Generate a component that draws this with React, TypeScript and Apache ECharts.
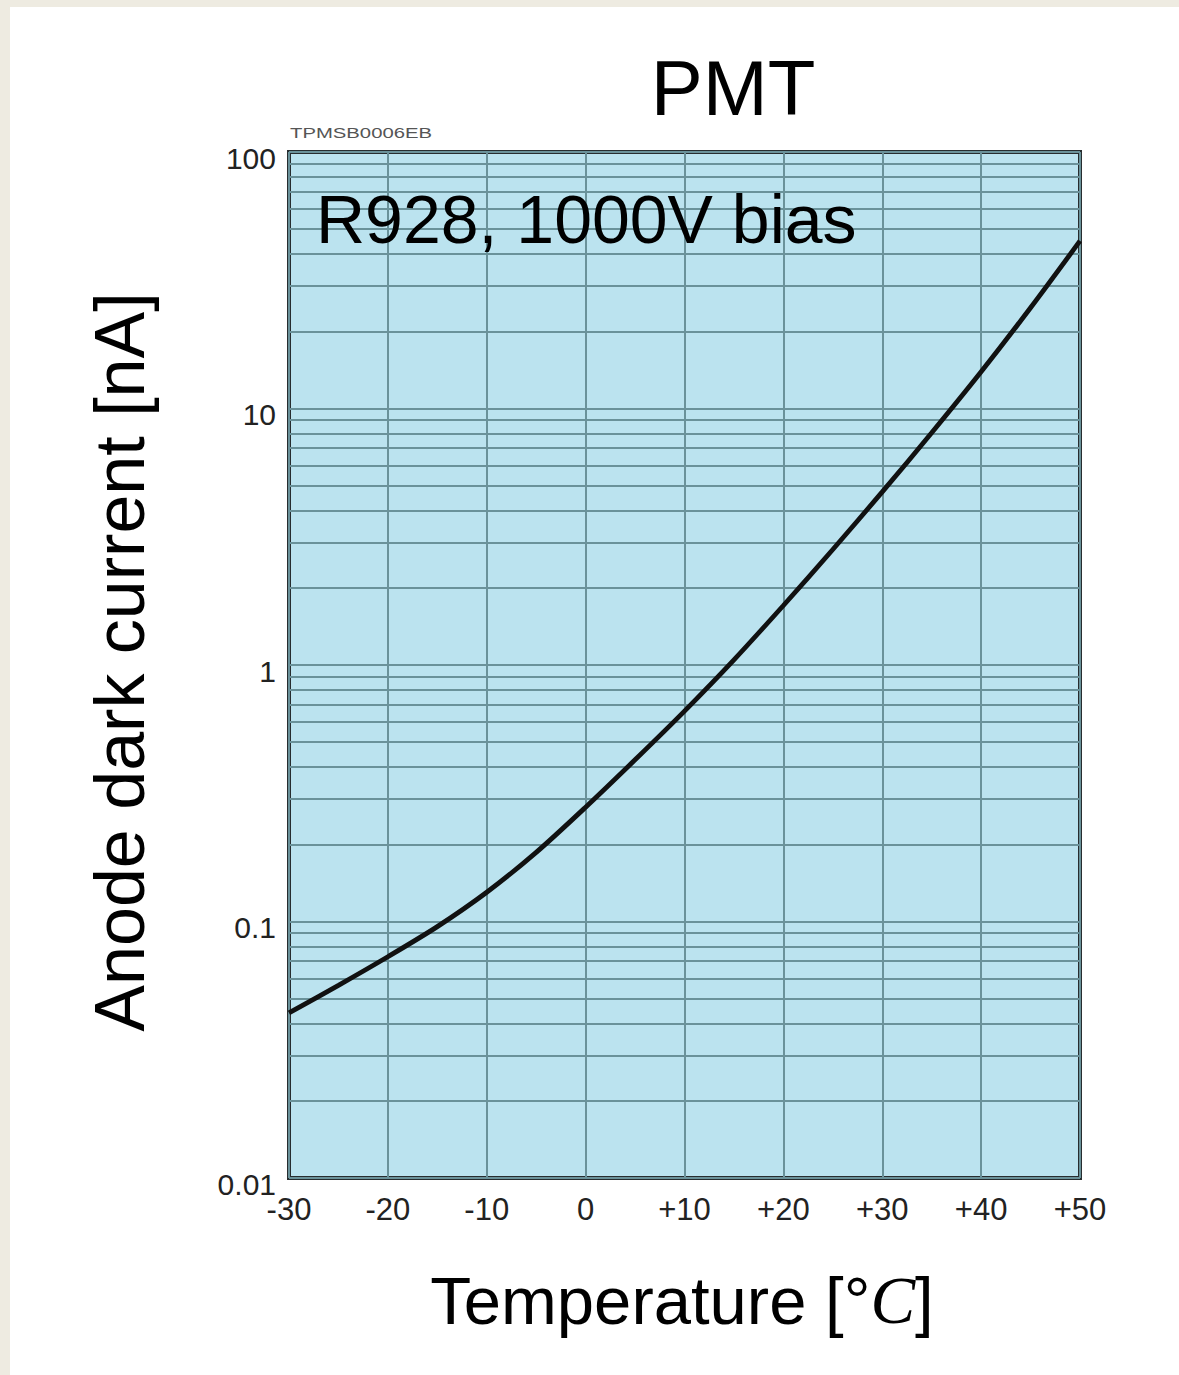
import React, { useEffect, useRef } from "react";
import * as echarts from "echarts";

// ---- data ----
const temperatures = [-30, -25, -20, -15, -10, -5, 0, 5, 10, 15, 20, 25, 30, 35, 40, 45, 50];
const darkCurrent = [0.044, 0.0564, 0.0729, 0.0955, 0.13, 0.186, 0.279, 0.427, 0.661, 1.047, 1.706, 2.82, 4.73, 8.04, 13.9, 24.7, 45.0];
const xTickLabels = ["-30", "-20", "-10", "0", "+10", "+20", "+30", "+40", "+50"];
const yTickLabels = ["0.01", "0.1", "1", "10", "100"];
const decades = [0.01, 0.1, 1, 10];
const minorMultipliers = [2, 3, 4, 5, 6, 7, 8, 9];

const OX = 10;
const OY = 7;
const GRID_COLOR = "#6a929a";
const SANS = "'Liberation Sans', Arial, Helvetica, sans-serif";

export default function App() {
  const ref = useRef<HTMLDivElement>(null);

  useEffect(() => {
    if (!ref.current) return;
    const chart = echarts.init(ref.current, undefined, { renderer: "svg" });

    const minorLines: any[] = [];
    decades.forEach((d) =>
      minorMultipliers.forEach((m) => minorLines.push({ yAxis: +(d * m).toPrecision(3) }))
    );

    const curve = temperatures.map((t, i) => [t, darkCurrent[i]]);

    chart.setOption({
      animation: false,
      backgroundColor: "#ffffff",
      grid: {
        left: 289 - OX,
        top: 152 - OY,
        width: 791,
        height: 1026,
        show: true,
        backgroundColor: "#bbe3ef",
        borderColor: "#272d2f",
        borderWidth: 4,
      },
      xAxis: {
        type: "value",
        min: -30,
        max: 50,
        interval: 10,
        axisLine: { show: false },
        axisTick: { show: false },
        splitLine: { show: true, lineStyle: { color: GRID_COLOR, width: 2 } },
        axisLabel: {
          margin: 16,
          fontSize: 31,
          color: "#222",
          fontFamily: SANS,
          formatter: (v: number) => xTickLabels[Math.round((v + 30) / 10)] ?? "",
        },
      },
      yAxis: {
        type: "log",
        logBase: 10,
        min: 0.01,
        max: 100,
        axisLine: { show: false },
        axisTick: { show: false },
        splitLine: { show: true, lineStyle: { color: GRID_COLOR, width: 2 } },
        axisLabel: {
          margin: 13,
          fontSize: 30,
          color: "#222",
          fontFamily: SANS,
          formatter: (v: number) => {
            const s = yTickLabels[Math.round(Math.log10(v)) + 2];
            return s ? "{v|" + s + "}" : "";
          },
          rich: {
            v: {
              fontSize: 30,
              color: "#222",
              fontFamily: SANS,
              padding: [12, 0, 0, 0],
            },
          },
        },
      },
      series: [
        {
          type: "line",
          data: [],
          z: 1,
          silent: true,
          markLine: {
            silent: true,
            symbol: ["none", "none"],
            label: { show: false },
            lineStyle: { color: GRID_COLOR, width: 2, type: "solid" },
            emphasis: { disabled: true },
            data: minorLines,
          },
        },
        {
          type: "line",
          data: curve,
          z: 5,
          smooth: 0.3,
          showSymbol: false,
          lineStyle: { color: "#111111", width: 4.8 },
        },
      ],
      graphic: [
        {
          type: "text",
          x: 733 - OX,
          y: 88 - OY,
          style: {
            text: "PMT",
            fontSize: 78,
            fontFamily: SANS,
            fill: "#000",
            align: "center",
            verticalAlign: "middle",
          },
        },
        {
          type: "text",
          x: 290 - OX,
          y: 133 - OY,
          scaleX: 1.45,
          style: {
            text: "TPMSB0006EB",
            fontSize: 14,
            fontFamily: SANS,
            fill: "#555",
            align: "left",
            verticalAlign: "middle",
          },
        },
        {
          type: "text",
          x: 316 - OX,
          y: 219 - OY,
          z: 10,
          style: {
            text: "R928, 1000V bias",
            fontSize: 68,
            fontFamily: SANS,
            fill: "#000",
            align: "left",
            verticalAlign: "middle",
          },
        },
        {
          type: "text",
          x: 120 - OX,
          y: 662 - OY,
          rotation: Math.PI / 2,
          style: {
            text: "Anode dark current [nA]",
            fontSize: 70,
            fontFamily: SANS,
            fill: "#000",
            align: "center",
            verticalAlign: "middle",
          },
        },
        {
          type: "text",
          x: 682 - OX,
          y: 1300 - OY,
          style: {
            text: "{a|Temperature [°}{c|C}{a|]}",
            fill: "#000",
            align: "center",
            verticalAlign: "middle",
            rich: {
              a: { fontSize: 67, fontFamily: SANS, fill: "#000" },
              c: { fontSize: 67, fontFamily: "'Liberation Serif', serif", fontStyle: "italic", fill: "#000" },
            },
          },
        },
      ],
    });

    return () => chart.dispose();
  }, []);

  return (
    <div
      style={{
        position: "fixed",
        left: 0,
        top: 0,
        width: 1179,
        height: 1375,
        background: "#eeebe1",
      }}
    >
      <div
        ref={ref}
        style={{ position: "absolute", left: OX, top: OY, width: 1179 - OX, height: 1375 - OY }}
      />
    </div>
  );
}
